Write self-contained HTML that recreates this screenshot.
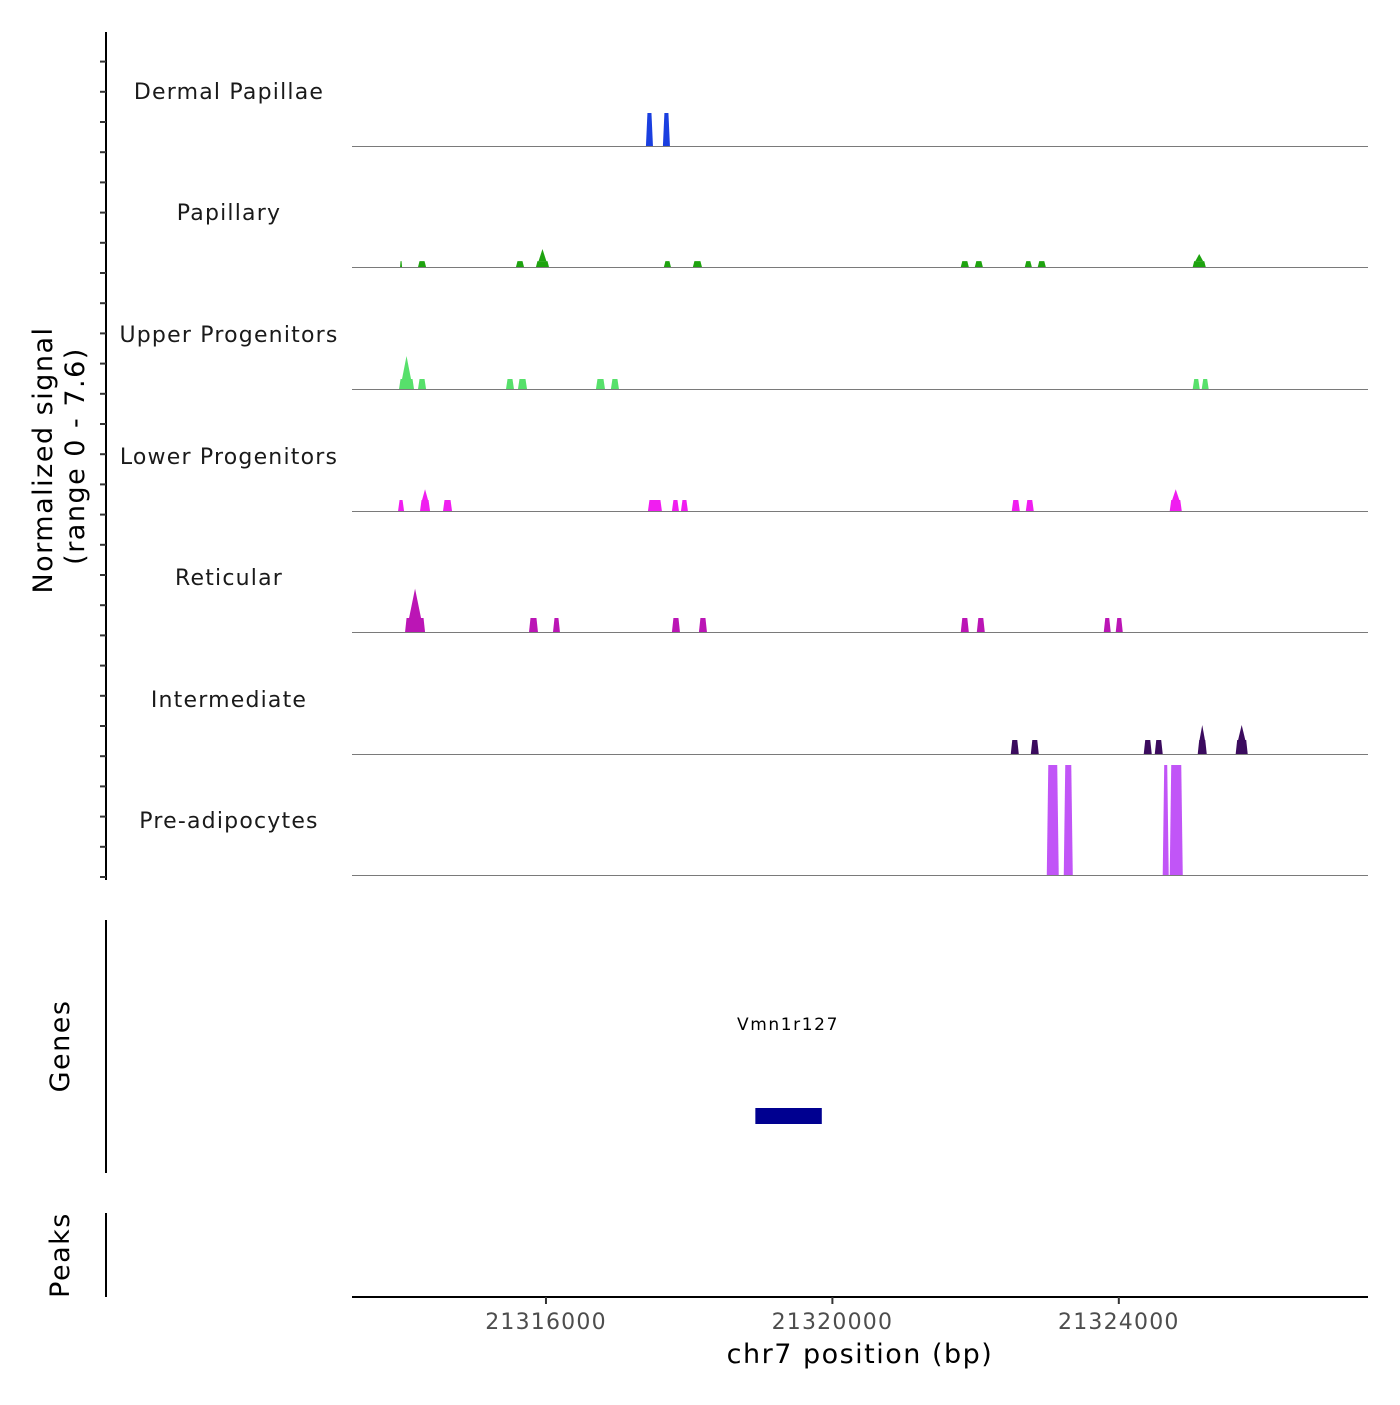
<!DOCTYPE html>
<html><head><meta charset="utf-8"><style>
body{margin:0;background:#fff}
svg text{font-family:"DejaVu Sans","Liberation Sans",sans-serif}
</style></head><body>
<svg id="chart" width="1400" height="1400" xmlns="http://www.w3.org/2000/svg">
<g id="tracks"></g>
<g id="axes"></g>
</svg>
<script>
const trackNames = ["Dermal Papillae","Papillary","Upper Progenitors","Lower Progenitors","Reticular","Intermediate","Pre-adipocytes"];
const trackColors = ["#1a3fe0","#1ea30f","#57e06b","#f01ef0","#bb15b5","#3b0b5e","#c155f7"];
const peakStarts = [
 [21317396,21317633],
 [21313962,21314213,21315581,21315860,21317647,21318052,21321793,21321989,21322687,21322868,21325032],
 [21313948,21314213,21315442,21315609,21316698,21316907,21325032,21325158],
 [21313934,21314241,21314562,21317424,21317759,21317885,21322505,21322701,21324711],
 [21314032,21315763,21316098,21317759,21318136,21321793,21322017,21323790,21323957],
 [21322491,21322771,21324348,21324502,21325102,21325632],
 [21322994,21323231,21324613,21324711]
];
const peakEnds = [
 [21317494,21317731],
 [21313990,21314325,21315693,21316042,21317745,21318178,21321905,21322101,21322785,21322980,21325214],
 [21314157,21314325,21315553,21315735,21316824,21317019,21325130,21325255],
 [21314018,21314381,21314688,21317619,21317857,21317982,21322617,21322812,21324879],
 [21314311,21315888,21316195,21317871,21318248,21321905,21322128,21323887,21324055],
 [21322603,21322882,21324460,21324613,21325228,21325800],
 [21323161,21323357,21324697,21324893]
];
const peakValues = [
 [2.28,2.28],
 [0.41,0.41,0.41,0.41,0.41,0.41,0.41,0.41,0.41,0.41,0.41],
 [0.69,0.69,0.69,0.69,0.69,0.69,0.69,0.69],
 [0.76,0.76,0.76,0.76,0.76,0.76,0.76,0.76,0.76],
 [0.97,0.97,0.97,0.97,0.97,0.97,0.97,0.97,0.97],
 [0.97,0.97,0.97,0.97,0.97,0.97],
 [7.6,7.6,7.6,7.6]
];
const spikeValues = [
 [0,0],
 [0,0,0,1.24,0,0,0,0,0,0,0.9],
 [2.28,0,0,0,0,0,0,0],
 [0,1.5,0,0,0,0,0,0,1.5],
 [3.0,0,0,0,0,0,0,0,0],
 [0,0,0,0,2.0,2.0],
 [0,0,0,0]
];
const xTicks = [21316000,21320000,21324000];
const xMin = 21313291, xMax = 21327480, yMax = 7.6;
const baselines = [146,267,389,511,632,754,875];
const plotL = 352, plotR = 1368, trackPx = 110;
function xs(v){return plotL+(v-xMin)/(xMax-xMin)*(plotR-plotL);}
function ys(v,t){return baselines[t]-v/yMax*trackPx;}
const NS="http://www.w3.org/2000/svg";
function mk(tag,attrs,parent,txt){const e=document.createElementNS(NS,tag);for(const k in attrs)e.setAttribute(k,attrs[k]);if(txt!==undefined)e.textContent=txt;parent.appendChild(e);return e;}
const tg=document.getElementById('tracks'), ag=document.getElementById('axes');
for(let t=0;t<7;t++){
  const g=mk('g',{},tg);
  
  
  const lb=mk('text',{x:229,y:baselines[t]-47,'text-anchor':'middle','font-size':'22','letter-spacing':'1.2',fill:'#1a1a1a'},g,trackNames[t]);
  
  
  for(let i=0;i<peakStarts[t].length;i++){
    const x0=xs(peakStarts[t][i]), x1=xs(peakEnds[t][i]), b=baselines[t], yt=ys(peakValues[t][i],t);
    const ins=Math.min(1.5,(x1-x0)/4);
    const p=mk('polygon',{points:`${x0},${b} ${x0+ins},${yt} ${x1-ins},${yt} ${x1},${b}`,fill:trackColors[t]},g);
    
    
    if(spikeValues[t][i]>0){
      const c=(x0+x1)/2, w=(x1-x0)*0.3, ys2=ys(spikeValues[t][i],t);
      const s=mk('polygon',{points:`${c-w},${yt} ${c},${ys2} ${c+w},${yt}`,fill:trackColors[t]},g);
      
      
    }
  }
  const bl=mk('line',{x1:plotL,x2:plotR,y1:baselines[t]+0.5,y2:baselines[t]+0.5,stroke:'#7a7a7a','stroke-width':1},g);
  
  
}
const sp=mk('line',{x1:106,x2:106,y1:32,y2:880,stroke:'#000','stroke-width':2},ag);


for(let y=877;y>=32;y-=30.2){
  const tk=mk('line',{x1:100,x2:106,y1:y,y2:y,stroke:'#333','stroke-width':2},ag);
  
  
}
const sg=mk('line',{x1:106,x2:106,y1:920,y2:1173,stroke:'#000','stroke-width':2},ag);


const spk=mk('line',{x1:106,x2:106,y1:1213,y2:1297,stroke:'#000','stroke-width':2},ag);


const yt1=mk('text',{transform:'translate(52,460) rotate(-90)','text-anchor':'middle','font-size':'27','letter-spacing':'1.5',fill:'#000'},ag,'Normalized signal');


const yt2=mk('text',{transform:'translate(84,456) rotate(-90)','text-anchor':'middle','font-size':'27','letter-spacing':'1.5',fill:'#000'},ag,'(range 0 - 7.6)');


const gt=mk('text',{transform:'translate(69,1046) rotate(-90)','text-anchor':'middle','font-size':'27','letter-spacing':'1.5',fill:'#000'},ag,'Genes');


const pt=mk('text',{transform:'translate(69,1255) rotate(-90)','text-anchor':'middle','font-size':'27','letter-spacing':'1.5',fill:'#000'},ag,'Peaks');


const gl=mk('text',{x:788,y:1030,'text-anchor':'middle','font-size':'17','letter-spacing':'1.6',fill:'#000'},ag,'Vmn1r127');


const gb=mk('rect',{x:xs(21318924),y:1108,width:xs(21319852)-xs(21318924),height:16,fill:'#000090'},ag);


const xa=mk('line',{x1:plotL,x2:plotR,y1:1297,y2:1297,stroke:'#000','stroke-width':2},ag);


xTicks.forEach(v=>{
  const tk=mk('line',{x1:xs(v),x2:xs(v),y1:1297,y2:1304,stroke:'#333','stroke-width':2},ag);
  
  
  const tl=mk('text',{x:xs(v),y:1329,'text-anchor':'middle','font-size':'22','letter-spacing':'1.2',fill:'#4d4d4d'},ag,String(v));
  
  
});
const xt=mk('text',{x:860,y:1363,'text-anchor':'middle','font-size':'27','letter-spacing':'1.5',fill:'#000'},ag,'chr7 position (bp)');


</script>
</body></html>
